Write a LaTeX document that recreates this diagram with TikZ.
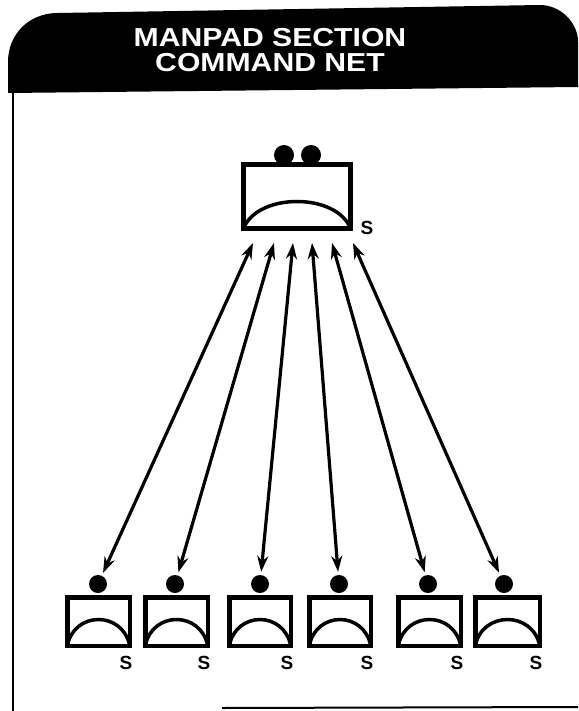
\documentclass[tikz,border=0pt]{standalone}
\usepackage{fontspec}
\setmainfont{Liberation Sans}
\newfontfamily\headfont[FakeStretch=1.16]{Liberation Sans}
\usetikzlibrary{arrows.meta}
\begin{document}
\begin{tikzpicture}[x=1pt,y=-1pt,
  radiobox/.style={draw,line width=4.5pt,rectangle,outer sep=0pt,inner sep=0pt},
  dot/.style={circle,fill,inner sep=0pt},
  slabel/.style={font=\fontsize{19}{19}\selectfont\bfseries,inner sep=0pt},
  netarrow/.style={line width=3.2pt,{Stealth[length=16pt,width=11pt]}-{Stealth[length=16pt,width=11pt]},shorten >=3pt},
  dish/.style={line width=3.5pt,line cap=round}
]
\useasboundingbox (0,0) rectangle (578,711);
% header
\fill (8,93) -- (8,62) .. controls (8,35) and (28,13) .. (58,13) -- (540,5)
  .. controls (560,5) and (578,22) .. (578,42) -- (578,87) -- cycle;
\node[text=white,align=center,font=\headfont\fontsize{26}{25}\selectfont\bfseries,inner sep=0pt,anchor=center] (title) at (270,50) {MANPAD SECTION\\COMMAND NET};
% frame
\draw[line width=2pt] (13,92) -- (13,711);
\draw[line width=2pt] (222,708) -- (578,707);
% top station
\node[radiobox,minimum width=107pt,minimum height=64pt] (top) at (297,196.5) {};
\node[dot,minimum size=20pt] (tc1) at (284,155) {};
\node[dot,minimum size=20pt] (tc2) at (311,155) {};
\draw[dish] (top.south west) .. controls ([xshift=14pt,yshift=36pt]top.south west) and ([xshift=-14pt,yshift=36pt]top.south east) .. (top.south east);
\node[slabel] (ts) at (367,228) {S};
% bottom stations
\foreach \i/\l/\r/\c in {1/65/132/98,2/143/210/175,3/227/293/260,4/307/373/339,5/396/463/428,6/473/542/504}{
  \node[radiobox,minimum width={\r-\l-4.5},minimum height=48.5pt] (b\i) at ({(\l+\r)/2},621.5) {};
  \node[dot,minimum size=18pt] (c\i) at (\c,584) {};
  \draw[dish] (b\i.south west) .. controls ([xshift=7pt,yshift=35pt]b\i.south west) and ([xshift=-7pt,yshift=35pt]b\i.south east) .. (b\i.south east);
  \node[slabel] (s\i) at ({\r-6},663) {S};
}
% arrows
\foreach \i/\x in {1/253,2/274,3/293,4/312,5/332,6/353}{
  \coordinate (t\i) at (\x,243);
  \draw[netarrow] (t\i) -- (c\i);
}
\end{tikzpicture}
\end{document}
